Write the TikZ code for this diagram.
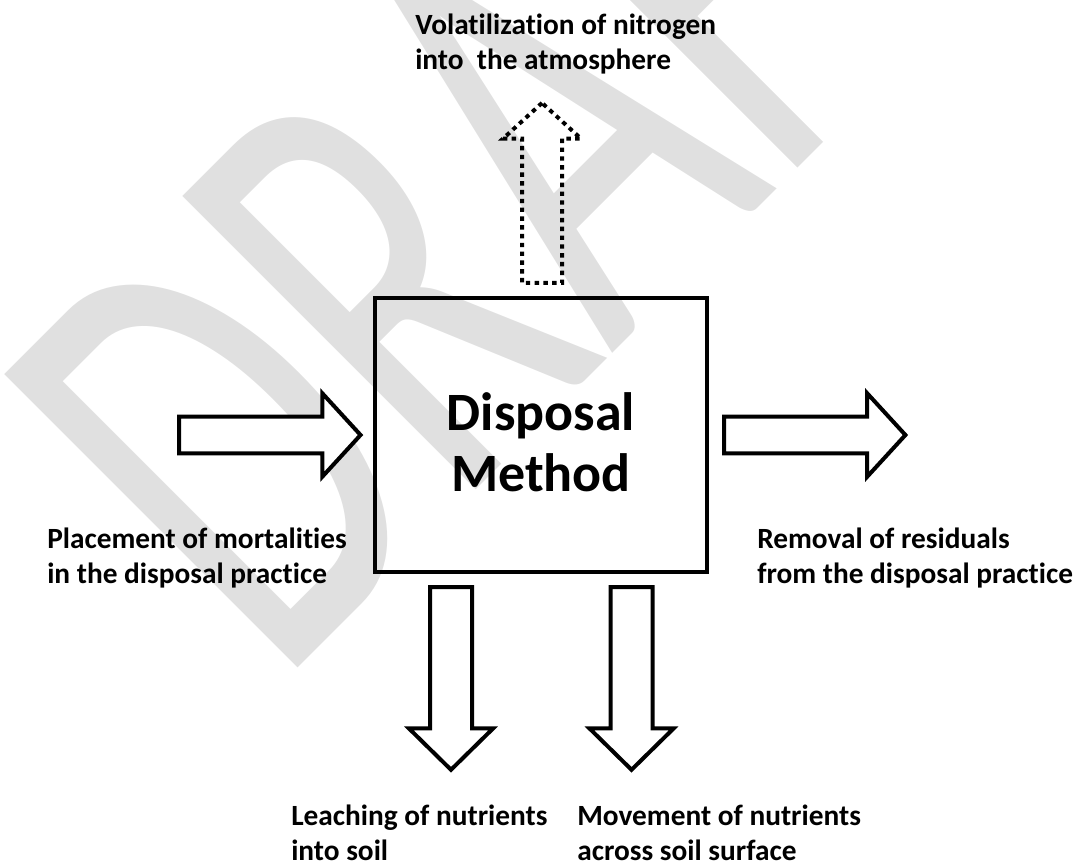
\documentclass[tikz,border=0pt]{standalone}
\usepackage{fontspec}
\setmainfont{Carlito}[Ligatures=NoCommon]
\usetikzlibrary{positioning,shapes.arrows}

\begin{document}
\begin{tikzpicture}[
    x=0.75pt,
    y=-0.75pt,
    label/.style={
      anchor=base west,
      inner sep=0pt,
      align=left,
      font=\bfseries\fontsize{22}{26.25}\selectfont
    },
    box/.style={
      draw,
      line width=3.6pt,
      minimum width=249pt,
      minimum height=205.5pt
    },
    boxtext/.style={
      align=center,
      inner sep=0pt,
      font=\bfseries\fontsize{40.5}{45.75}\selectfont
    },
    blockarrow/.style={
      single arrow,
      draw,
      fill=white,
      line width=3pt,
      inner sep=12.2pt,
      minimum height=136pt,
      single arrow head extend=17.6pt,
      single arrow tip angle=95
    },
    downarrow/.style={
      blockarrow,
      shape border rotate=270,
      inner sep=14.25pt,
      minimum height=137pt,
      single arrow head extend=15.75pt,
      single arrow tip angle=91
    },
    gasarrow/.style={
      blockarrow,
      fill=none,
      shape border rotate=90,
      dash pattern=on 3.3pt off 3.3pt,
      inner sep=13.5pt,
      minimum height=135pt,
      single arrow head extend=14.25pt
    },
    watermark/.style={
      rotate=45,
      xscale=0.63,
      anchor=base west,
      inner sep=0pt,
      text=black!12,
      font=\fontsize{485}{485}\selectfont
    }
  ]

    \useasboundingbox (0,0) rectangle (1077,861);

    % DRAFT watermark behind the diagram
    \begin{scope}
      \clip (0,0) rectangle (1077,861);
      \node[watermark] (draft) at (278,688) {DRAFT};
    \end{scope}

    % Disposal practice
    \node[box] (method) at (541,435) {};
    \node[boxtext] (title) at ([yshift=-5.5pt]method.center) {Disposal\\Method};

    % Flows in and out
    \node[blockarrow, left=7pt of method] (placement) {};
    \node[blockarrow, right=9.5pt of method] (removal) {};
    \node[downarrow, below=8pt of method, xshift=-67.5pt] (leaching) {};
    \node[downarrow, below=8pt of method, xshift=67.9pt] (runoff) {};
    \node[gasarrow, above=8pt of method, xshift=0.75pt] (volatilization) {};

    % Labels (anchored on the last line)
    \node[label] (voltext) at (415,69) {Volatilization of nitrogen\\into~ the atmosphere};
    \node[label] (placetext) at (47,583) {Placement of mortalities\\in the disposal practice};
    \node[label] (remtext) at (757,583) {Removal of residuals\\from the disposal practice};
    \node[label] (leachtext) at (291,860) {Leaching of nutrients\\into soil};
    \node[label] (runtext) at (577,860) {Movement of nutrients\\across soil surface};

  \end{tikzpicture}
\end{document}
